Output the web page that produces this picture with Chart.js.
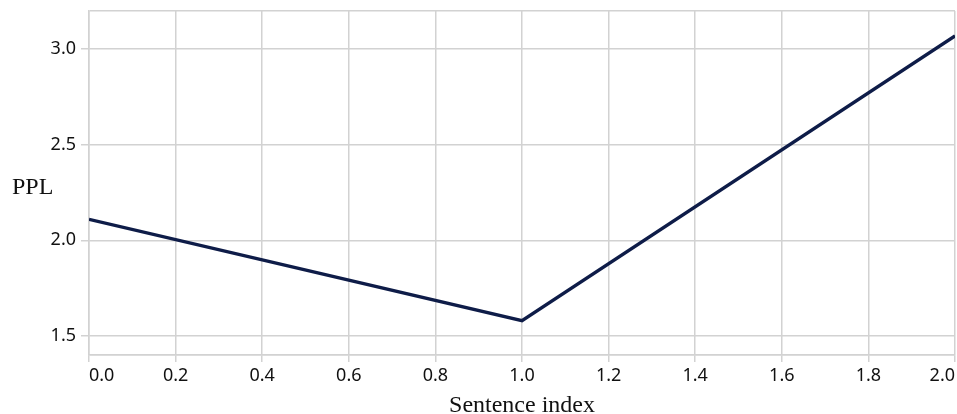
<!DOCTYPE html>
<html>
<head>
<meta charset="utf-8">
<script src="https://cdn.jsdelivr.net/npm/chart.js@4"></script>
<style>
html,body{margin:0;padding:0;background:#fff;}
#wrap{width:957px;height:414px;}
</style>
</head>
<body>
<div id="wrap"><canvas id="c" width="957" height="414"></canvas></div>
<script>
const sentenceIndex = [0, 1, 2];
const pplValues = [2.11, 1.58, 3.07];
const yTicks = [1.5, 2.0, 2.5, 3.0];
const xTitle = 'Sentence index';
const yTitle = 'PPL';

const GRID = '#d2d2d2';
const TICKFONT = {family: '"Noto Sans", "Open Sans", sans-serif', size: 18};
const SERIF = '"Liberation Serif", "DejaVu Serif", serif';

const yTitlePlugin = {
  id: 'yTitle',
  afterDraw(chart) {
    const {ctx, chartArea} = chart;
    ctx.save();
    ctx.font = '24px ' + SERIF;
    ctx.fillStyle = '#111';
    ctx.textAlign = 'left';
    ctx.textBaseline = 'middle';
    ctx.fillText(yTitle, 12, (chartArea.top + chartArea.bottom) / 2 + 5);
    ctx.restore();
  }
};

new Chart(document.getElementById('c'), {
  type: 'line',
  data: {
    datasets: [{
      data: sentenceIndex.map((x, i) => ({x: x, y: pplValues[i]})),
      borderColor: '#0e1c48',
      borderWidth: 3.4,
      pointRadius: 0,
      tension: 0,
      fill: false
    }]
  },
  options: {
    responsive: false,
    animation: false,
    events: [],
    layout: {padding: {top: 11, right: 2, left: 0, bottom: 0}},
    plugins: {legend: {display: false}, tooltip: {enabled: false}},
    scales: {
      x: {
        type: 'linear',
        min: 0, max: 2,
        ticks: {
          stepSize: 0.2,
          color: '#111',
          font: TICKFONT,
          padding: 3,
          align: 'inner',
          maxRotation: 0,
          callback: v => Number(v).toFixed(1)
        },
        grid: {color: GRID, lineWidth: 1.5, tickLength: 7, tickColor: GRID},
        border: {color: GRID, width: 1.5},
        title: {display: true, text: xTitle, color: '#111', font: {family: SERIF, size: 24, lineHeight: 0.7}, padding: {top: 0, bottom: 0}},
        afterFit(s) { s.height = 59; s.paddingLeft = 0; s.paddingRight = 0; }
      },
      y: {
        type: 'linear',
        min: 1.4, max: 3.2,
        afterBuildTicks(s) { s.ticks = [1.4].concat(yTicks, [3.2]).map(v => ({value: v})); },
        ticks: {
          color: '#111',
          font: TICKFONT,
          padding: 5,
          callback: v => (v === 1.4 || v === 3.2) ? '' : Number(v).toFixed(1)
        },
        grid: {
          color: GRID, lineWidth: 1.5, tickLength: 8,
          tickColor: c => (c.tick && (c.tick.value === 1.4 || c.tick.value === 3.2)) ? 'rgba(0,0,0,0)' : GRID
        },
        border: {color: GRID, width: 1.5},
        afterFit(s) { s.width = 89; s.paddingTop = 0; s.paddingBottom = 0; }
      }
    }
  },
  plugins: [yTitlePlugin]
});
</script>
</body>
</html>
